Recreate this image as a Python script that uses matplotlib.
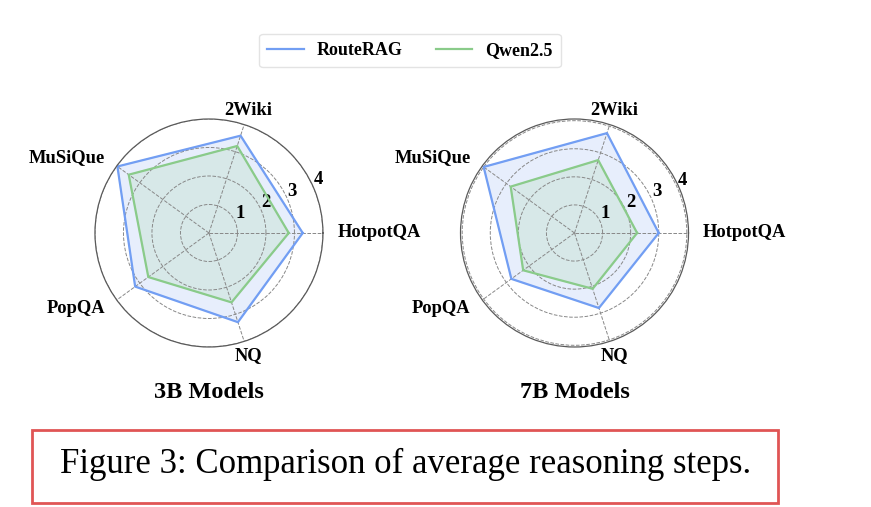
import numpy as np
import matplotlib
matplotlib.use("Agg")
import matplotlib.pyplot as plt
from matplotlib.patches import Rectangle
from matplotlib.lines import Line2D

plt.rcParams['font.family'] = ['Liberation Serif', 'DejaVu Serif']

# datasets on the radar axes, counter-clockwise from 3 o'clock
datasets = ['HotpotQA', '2Wiki', 'MuSiQue', 'PopQA', 'NQ']

# average reasoning steps
routerag_3b = [3.29, 3.59, 3.97, 3.20, 3.29]
qwen_3b = [2.80, 3.21, 3.48, 2.63, 2.56]
routerag_7b = [3.00, 3.74, 4.00, 2.78, 2.81]
qwen_7b = [2.23, 2.73, 2.81, 2.26, 2.09]

panel_titles = ['3B Models', '7B Models']
series_names = ['RouteRAG', 'Qwen2.5']
rticks = [1, 2, 3, 4]

blue = '#729ef3'
green = '#8acb8a'

# label alignment per spoke so text sits just outside the ring
label_align = ['left', 'center', 'right', 'right', 'center']

fig = plt.figure(figsize=(8.71, 5.07), dpi=100)

angles = np.linspace(0, 2 * np.pi, len(datasets), endpoint=False)
closed = np.concatenate([angles, angles[:1]])


def radar(ax, rr, qw, rmax, title):
    ax.set_ylim(0, rmax)
    for vals, col in ((rr, blue), (qw, green)):
        v = np.concatenate([vals, vals[:1]])
        ax.plot(closed, v, color=col, lw=1.6)
        ax.fill(closed, v, color=col, alpha=0.17)
    ax.set_xticks(angles)
    ax.set_xticklabels(datasets, fontsize=13.3, fontweight='bold')
    ax.tick_params(axis='x', pad=0)
    for lbl, ha in zip(ax.get_xticklabels(), label_align):
        lbl.set_ha(ha)
        lbl.set_va('center')
    ax.set_yticks(rticks)
    ax.set_yticklabels([str(t) for t in rticks], fontsize=13.5, fontweight='bold')
    ax.set_rlabel_position(23)
    ax.grid(True, color='#888888', ls='--', lw=0.7)
    ax.spines['polar'].set_color('#5a5a5a')
    ax.spines['polar'].set_linewidth(0.9)
    ax.text(0.5, -0.2237, title, transform=ax.transAxes, ha='center', va='baseline',
            fontsize=17.5, fontweight='bold')


ax1 = fig.add_axes([0.109, 0.3156, 0.2618, 0.4497], projection='polar')
radar(ax1, routerag_3b, qwen_3b, 4.0, panel_titles[0])
ax2 = fig.add_axes([0.5287, 0.3156, 0.2618, 0.4497], projection='polar')
radar(ax2, routerag_7b, qwen_7b, 4.06, panel_titles[1])

handles = [Line2D([], [], color=blue, lw=1.6), Line2D([], [], color=green, lw=1.6)]
fig.legend(handles, series_names, loc='center', bbox_to_anchor=(0.4707, 0.9004),
           ncol=2, frameon=True, prop={'weight': 'bold', 'size': 13},
           columnspacing=1.9, handlelength=2.0, handletextpad=0.7,
           fancybox=True, edgecolor='#dddddd', borderpad=0.45)

# caption in a red frame
fig.patches.append(Rectangle((32 / 871, 1 - 503 / 507), (778 - 32) / 871, 73 / 507,
                             transform=fig.transFigure, fill=False,
                             edgecolor='#e05555', lw=2))
fig.text(406 / 871, 1 - 473 / 507, 'Figure 3: Comparison of average reasoning steps.',
         ha='center', va='baseline', fontsize=25)

fig.savefig('out.png', dpi=100)
